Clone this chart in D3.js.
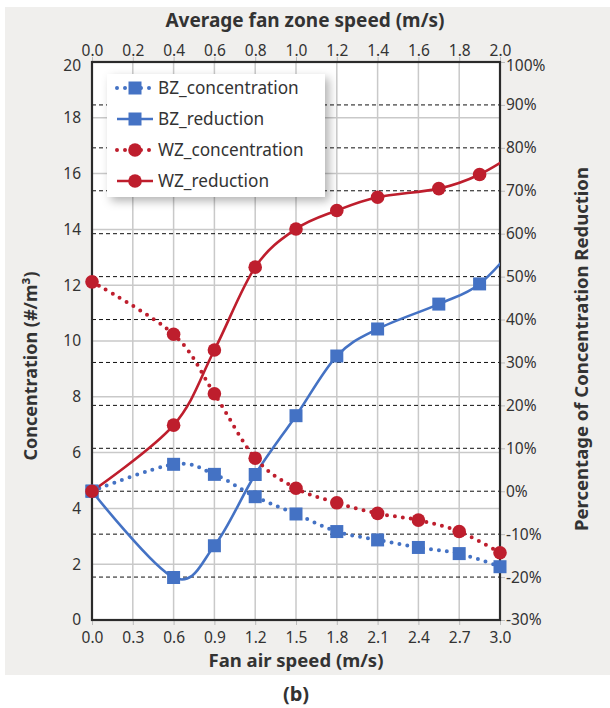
<!DOCTYPE html>
<html>
<head>
<meta charset="utf-8">
<script src="https://cdn.jsdelivr.net/npm/d3@7"></script>
<style>
  html, body { margin: 0; padding: 0; background: #ffffff; }
  svg { display: block; }
  text { font-family: "Noto Sans", "Open Sans", sans-serif; fill: #333; }
</style>
</head>
<body>
<svg id="chart" width="610" height="708"></svg>
<script>
// Fan air speed (bottom axis, m/s)
const fanSpeedConc = [0, 0.6, 0.9, 1.2, 1.5, 1.8, 2.1, 2.4, 2.7, 3.0];
const fanSpeedRed  = [0, 0.6, 0.9, 1.2, 1.5, 1.8, 2.1, 2.55, 2.85, 3.15];

// Concentrations (#/m³, left axis)
const bzConcentration = [4.62, 5.58, 5.22, 4.42, 3.80, 3.17, 2.87, 2.60, 2.38, 1.91];
const wzConcentration = [12.12, 10.24, 8.11, 5.80, 4.72, 4.20, 3.82, 3.58, 3.17, 2.41];

// Percentage of concentration reduction (right axis, %)
const bzReduction = [0, -20.1, -12.7, 3.9, 17.6, 31.5, 37.8, 43.6, 48.3, 58.5];
const wzReduction = [0, 15.4, 32.9, 52.2, 61.1, 65.4, 68.5, 70.5, 73.8, 79.5];

// Tick labels
const bottomTicks = [0, 0.3, 0.6, 0.9, 1.2, 1.5, 1.8, 2.1, 2.4, 2.7, 3.0];
const topTicks = [0, 0.2, 0.4, 0.6, 0.8, 1.0, 1.2, 1.4, 1.6, 1.8, 2.0];
const leftTicks = [0, 2, 4, 6, 8, 10, 12, 14, 16, 18, 20];
const rightTicks = [-30, -20, -10, 0, 10, 20, 30, 40, 50, 60, 70, 80, 90, 100];

const seriesNames = ["BZ_concentration", "BZ_reduction", "WZ_concentration", "WZ_reduction"];

const BLUE = "#4472C4";
const RED = "#BE1E2D";

const svg = d3.select("#chart");
const L = 92, R = 500, T = 62, B = 620;

// panel background
svg.append("rect").attr("x", 5).attr("y", 7).attr("width", 605).attr("height", 668).attr("fill", "#f0efed");
svg.append("rect").attr("x", L).attr("y", T).attr("width", R - L).attr("height", B - T).attr("fill", "#ffffff");

const x = d3.scaleLinear().domain([0, 3]).range([L, R]);
const xTop = d3.scaleLinear().domain([0, 2]).range([L, R]);
const yL = d3.scaleLinear().domain([0, 20]).range([B, T]);
const yR = d3.scaleLinear().domain([-30, 100]).range([B, T]);

// gray gridlines
const grid = svg.append("g");
grid.selectAll("line.v").data(bottomTicks.slice(1, -1)).join("line")
  .attr("x1", d => x(d)).attr("x2", d => x(d)).attr("y1", T).attr("y2", B)
  .attr("stroke", "#c9c9c9").attr("stroke-width", 1.5);
grid.selectAll("line.h").data(leftTicks.slice(1, -1)).join("line")
  .attr("x1", L).attr("x2", R).attr("y1", d => yL(d)).attr("y2", d => yL(d))
  .attr("stroke", "#c9c9c9").attr("stroke-width", 1.5);
// dashed gridlines for the right axis
grid.selectAll("line.d").data(rightTicks.slice(1, -1)).join("line")
  .attr("x1", L).attr("x2", R).attr("y1", d => yR(d)).attr("y2", d => yR(d))
  .attr("stroke", "#111").attr("stroke-width", 1).attr("stroke-dasharray", "4,3");

// axes
const fmt1 = d3.format(".1f");
const axB = svg.append("g").attr("transform", `translate(0,${B})`)
  .call(d3.axisBottom(x).tickValues(bottomTicks).tickFormat(fmt1).tickSize(5).tickPadding(7));
const axT = svg.append("g").attr("transform", `translate(0,${T})`)
  .call(d3.axisTop(xTop).tickValues(topTicks).tickFormat(fmt1).tickSize(5).tickPadding(1));
const axL = svg.append("g").attr("transform", `translate(${L},0)`)
  .call(d3.axisLeft(yL).tickValues(leftTicks).tickFormat(d3.format("d")).tickSize(0).tickPadding(11));
const axR = svg.append("g").attr("transform", `translate(${R},0)`)
  .call(d3.axisRight(yR).tickValues(rightTicks).tickFormat(d => d + "%").tickSize(5).tickPadding(1));
[axB, axT, axL, axR].forEach(a => {
  a.select(".domain").remove();
  a.selectAll(".tick line").attr("stroke", "#bbb");
  a.selectAll("text").attr("font-size", 15.5).attr("fill", "#333")
    .style("font-family", "'Noto Sans', sans-serif");
});
axL.selectAll(".tick line").remove();
// the topmost side labels sit slightly below the frame corner
axL.selectAll(".tick").filter(d => d === 20).select("text").attr("y", 4);
axR.selectAll(".tick").filter(d => d === 100).select("text").attr("y", 4);

// plot frame
svg.append("rect").attr("x", L).attr("y", T).attr("width", R - L).attr("height", B - T)
  .attr("fill", "none").attr("stroke", "#2b2b2b").attr("stroke-width", 2.2);

// lines are clipped at the right frame; markers are drawn on top unclipped
svg.append("clipPath").attr("id", "lineClip").append("rect")
  .attr("x", L - 10).attr("y", T - 10).attr("width", R - L + 10).attr("height", B - T + 20);

const series = [
  { name: seriesNames[0], xs: fanSpeedConc, ys: bzConcentration, y: yL, color: BLUE, dotted: true, shape: "square" },
  { name: seriesNames[1], xs: fanSpeedRed, ys: bzReduction, y: yR, color: BLUE, dotted: false, shape: "square" },
  { name: seriesNames[2], xs: fanSpeedConc, ys: wzConcentration, y: yL, color: RED, dotted: true, shape: "circle" },
  { name: seriesNames[3], xs: fanSpeedRed, ys: wzReduction, y: yR, color: RED, dotted: false, shape: "circle" }
];

const lines = svg.append("g").attr("clip-path", "url(#lineClip)");
const marks = svg.append("g");

function drawMarker(g, shape, color, cx, cy) {
  if (shape === "square") {
    g.append("rect").attr("x", cx - 6.5).attr("y", cy - 6.5).attr("width", 13).attr("height", 13).attr("fill", color);
  } else {
    g.append("circle").attr("cx", cx).attr("cy", cy).attr("r", 6.8).attr("fill", color);
  }
}

series.forEach(s => {
  const pts = s.xs.map((v, i) => [x(v), s.y(s.ys[i])]);
  const line = d3.line().curve(d3.curveCardinal.tension(0));
  const path = lines.append("path").attr("d", line(pts)).attr("fill", "none")
    .attr("stroke", s.color).attr("stroke-width", s.dotted ? 4 : 2.6);
  if (s.dotted) path.attr("stroke-dasharray", "0,8").attr("stroke-linecap", "round");
  pts.forEach(p => { if (p[0] <= R + 0.5) drawMarker(marks, s.shape, s.color, p[0], p[1]); });
});

// axis titles
svg.append("text").attr("x", 305).attr("y", 27).attr("text-anchor", "middle")
  .attr("font-size", 19).attr("font-weight", "bold").text("Average fan zone speed (m/s)");
svg.append("text").attr("x", 296).attr("y", 667).attr("text-anchor", "middle")
  .attr("font-size", 18.5).attr("font-weight", "bold").text("Fan air speed (m/s)");
svg.append("text").attr("transform", `translate(37,366) rotate(-90)`).attr("text-anchor", "middle")
  .attr("font-size", 18).attr("font-weight", "bold").text("Concentration (#/m³)");
svg.append("text").attr("transform", `translate(588,349) rotate(-90)`).attr("text-anchor", "middle")
  .attr("font-size", 18.5).attr("font-weight", "bold").text("Percentage of Concentration Reduction");
svg.append("text").attr("x", 296).attr("y", 701).attr("text-anchor", "middle")
  .attr("font-size", 20).attr("font-weight", "bold").text("(b)");

// legend
const defs = svg.append("defs");
const f = defs.append("filter").attr("id", "shadow").attr("x", "-20%").attr("y", "-20%").attr("width", "150%").attr("height", "150%");
f.append("feDropShadow").attr("dx", 4).attr("dy", 4).attr("stdDeviation", 5).attr("flood-color", "#000").attr("flood-opacity", 0.3);
const lg = svg.append("g").attr("transform", "translate(107,74)");
lg.append("rect").attr("width", 218).attr("height", 123).attr("fill", "#fff").attr("filter", "url(#shadow)");
series.forEach((s, i) => {
  const yy = 14 + i * 31;
  const ln = lg.append("line").attr("x1", 10).attr("x2", 46).attr("y1", yy).attr("y2", yy)
    .attr("stroke", s.color).attr("stroke-width", s.dotted ? 4 : 2.6);
  if (s.dotted) ln.attr("stroke-dasharray", "0,8").attr("stroke-linecap", "round");
  drawMarker(lg, s.shape, s.color, 28, yy);
  lg.append("text").attr("x", 51).attr("y", yy + 6).attr("font-size", 17.2).text(s.name);
});
</script>
</body>
</html>
